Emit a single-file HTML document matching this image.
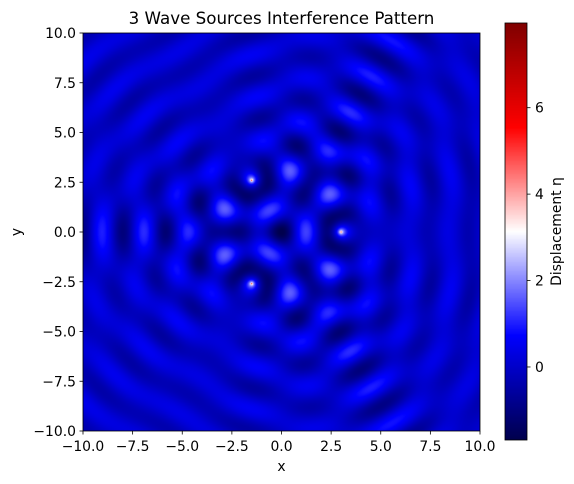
<!DOCTYPE html>
<html><head><meta charset="utf-8">
<style>
html,body{margin:0;padding:0;background:#fff;}
#wrap{position:relative;width:574px;height:484px;font-family:"Liberation Sans","DejaVu Sans",sans-serif;}
canvas{position:absolute;}
svg{position:absolute;left:0;top:0;}
text{font-family:"DejaVu Sans","Liberation Sans",sans-serif;fill:#000;}
</style></head>
<body>
<div id="wrap">
<canvas id="heat" width="397" height="398" style="left:83px;top:33px;"></canvas>
<canvas id="cbar" width="22" height="417" style="left:505px;top:23px;"></canvas>
<svg id="ax" width="574" height="484"></svg>
</div>
<script>
// data
const sourceX = [3.0, -1.5, -1.5];
const sourceY = [0.0, 2.6, -2.6];
const sourceAmp = [1, 1, 1];
const waveNumber = [3.14159];
const xTicks = [-10, -7.5, -5, -2.5, 0, 2.5, 5, 7.5, 10];
const yTicks = [-10, -7.5, -5, -2.5, 0, 2.5, 5, 7.5, 10];
const cbTicks = [0, 2, 4, 6];
const vRange = [-1.69, 7.96];

const PX0=83, PX1=480, PY0=33, PY1=431;
const xs = v => PX0 + (v+10)/20*(PX1-PX0);
const ys = v => PY1 - (v+10)/20*(PY1-PY0);
const CB0=23, CB1=440;
const cs = v => CB1 - (v-vRange[0])/(vRange[1]-vRange[0])*(CB1-CB0);
const FS=13.9;

function seismic(t){
  t=Math.max(0,Math.min(1,t));
  const st=[[0,0,0,0.3],[0.25,0,0,1],[0.5,1,1,1],[0.75,1,0,0],[1,0.5,0,0]];
  for(let i=0;i<4;i++){const a=st[i],b=st[i+1];
    if(t<=b[0]){const f=(t-a[0])/(b[0]-a[0]);
      return [a[1]+(b[1]-a[1])*f,a[2]+(b[2]-a[2])*f,a[3]+(b[3]-a[3])*f].map(c=>Math.round(c*255));}}
  return [128,0,0];
}
function field(x,y){
  let s=0;
  for(let i=0;i<sourceX.length;i++){
    const r=Math.hypot(x-sourceX[i],y-sourceY[i]);
    s+=sourceAmp[i]*Math.cos(waveNumber[0]*r)/Math.sqrt(r+0.0133);
  }
  return s;
}
(function(){
  const c=document.getElementById('heat'),g=c.getContext('2d');
  const W=c.width,H=c.height,img=g.createImageData(W,H);
  for(let j=0;j<H;j++)for(let i=0;i<W;i++){
    const x=-10+(i+0.5)/W*20, y=10-(j+0.5)/H*20;
    const v=field(x,y);
    const col=seismic((v-vRange[0])/(vRange[1]-vRange[0]));
    const k=(j*W+i)*4; img.data[k]=col[0];img.data[k+1]=col[1];img.data[k+2]=col[2];img.data[k+3]=255;
  }
  g.putImageData(img,0,0);
  const cb=document.getElementById('cbar'),h=cb.getContext('2d');
  for(let j=0;j<cb.height;j++){const col=seismic(1-(j+0.5)/cb.height);
    h.fillStyle=`rgb(${col[0]},${col[1]},${col[2]})`;h.fillRect(0,j,cb.width,1);}
})();
const NS='http://www.w3.org/2000/svg', svg=document.getElementById('ax');
function el(t,a,txt){const e=document.createElementNS(NS,t);for(const k in a)e.setAttribute(k,a[k]);if(txt!==undefined)e.textContent=txt;svg.appendChild(e);return e;}
function fmt(v){return (v<0?'\u2212':'')+Math.abs(v).toFixed(1);}
const frame=el('rect',{x:PX0,y:PY0,width:PX1-PX0,height:PY1-PY0,fill:'none',stroke:'#000','stroke-width':0.8});


xTicks.forEach(v=>{
  const l=el('line',{x1:xs(v),x2:xs(v),y1:PY1,y2:PY1+3.5,stroke:'#000','stroke-width':0.8});
  
  
  const t=el('text',{x:xs(v),y:PY1+20,'text-anchor':'middle','font-size':FS},fmt(v));
  
  
});
yTicks.forEach(v=>{
  const l=el('line',{x1:PX0-3.5,x2:PX0,y1:ys(v),y2:ys(v),stroke:'#000','stroke-width':0.8});
  
  
  const t=el('text',{x:PX0-7,y:ys(v)+5,'text-anchor':'end','font-size':FS},fmt(v));
  
  
});
const cf=el('rect',{x:505,y:CB0,width:22,height:CB1-CB0,fill:'none',stroke:'#000','stroke-width':0.8});


cbTicks.forEach(v=>{
  const l=el('line',{x1:527,x2:530.5,y1:cs(v),y2:cs(v),stroke:'#000','stroke-width':0.8});
  
  
  const t=el('text',{x:535,y:cs(v)+5,'font-size':FS},String(v));
  
  
});
const title=el('text',{x:(PX0+PX1)/2,y:24,'text-anchor':'middle','font-size':16.7},'3 Wave Sources Interference Pattern');


const xl=el('text',{x:(PX0+PX1)/2,y:471,'text-anchor':'middle','font-size':FS},'x');


const yl=el('text',{x:21,y:(PY0+PY1)/2,'text-anchor':'middle','font-size':FS,transform:`rotate(-90 21 ${(PY0+PY1)/2})`},'y');


const cl=el('text',{x:561,y:(CB0+CB1)/2,'text-anchor':'middle','font-size':FS,transform:`rotate(-90 561 ${(CB0+CB1)/2})`},'Displacement η');


</script>
</body></html>
